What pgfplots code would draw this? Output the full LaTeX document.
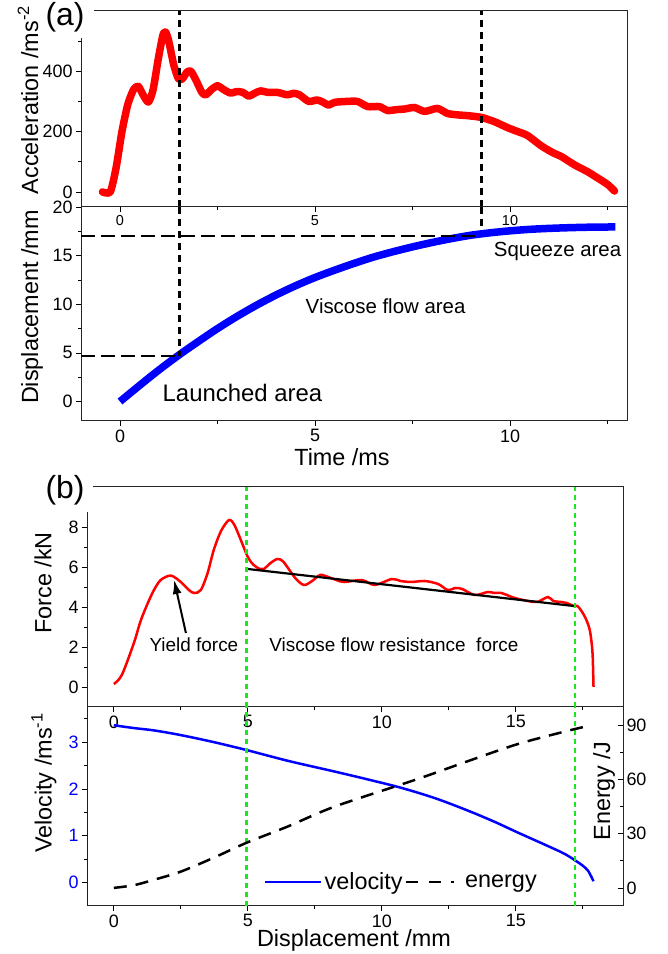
\documentclass[border=0pt]{standalone}
\usepackage{fontspec}
\setmainfont{Liberation Sans}
\usepackage{pgfplots}
\pgfplotsset{compat=1.18}
\usetikzlibrary{arrows.meta}
\definecolor{grn}{RGB}{30,230,30}
\pgfplotsset{
  common/.style={scale only axis, anchor=south west, clip=false,
    major tick length=5bp, minor tick length=3bp,
    every tick/.style={black, line width=0.8bp},
    axis line style={line width=1bp, black!85},
    /pgf/number format/assume math mode=true,
    tick label style={font=\fontsize{18}{18}\selectfont}},
  base/.style={common, tick align=outside, xtick pos=left, ytick pos=left},
}
\newcommand{\lab}{\fontsize{23.5}{24}\selectfont}
\begin{document}
\begin{tikzpicture}
\useasboundingbox (0,0) rectangle (668bp,954bp);
% ---------- (a) acceleration ----------
\begin{axis}[base, at={(81bp,747bp)}, width=546bp, height=196bp,
  xmin=-1, xmax=13, ymin=-50, ymax=600,
  xtick={0,5,10}, minor xtick={2.5,7.5,12.5},
  ytick={0,200,400}, minor ytick={100,300,500},
  xticklabel style={font=\fontsize{14.5}{14.5}\selectfont}]
\addplot[red, line width=7.5bp, line join=round, line cap=round, smooth, tension=0.4] coordinates {
(-0.45,0) (-0.25,0) (-0.1,80) (0.05,200) (0.2,290) (0.35,340) (0.47,350) (0.6,320) (0.73,298) (0.85,340) (0.98,440) (1.1,520) (1.17,530) (1.25,500) (1.38,420) (1.5,375) (1.6,375) (1.72,398) (1.82,400) (1.95,370) (2.1,330) (2.2,322) (2.35,340) (2.5,352) (2.65,340) (2.83,328) (3.0,333) (3.15,330) (3.3,318) (3.45,327) (3.6,335) (3.8,330) (4.04,330) (4.29,322) (4.45,327) (4.6,322) (4.84,300) (5.05,305) (5.2,298) (5.35,288) (5.5,297) (5.8,300) (6.09,300) (6.35,283) (6.65,283) (6.86,270) (7.1,273) (7.3,275) (7.55,280) (7.81,267) (8.14,277) (8.4,260) (8.7,255) (8.91,253) (9.27,247) (9.6,233) (9.94,213) (10.2,200) (10.45,187) (10.8,153) (11.1,130) (11.32,117) (11.65,90) (11.99,67) (12.2,50) (12.5,25) (12.68,3)};
\addplot[black, line width=2.5bp, dash pattern=on 7bp off 5bp] coordinates {(1.53,-50) (1.53,600)};
\addplot[black, line width=2.5bp, dash pattern=on 7bp off 5bp] coordinates {(9.27,-50) (9.27,600)};
\end{axis}
% ---------- (a) displacement ----------
\begin{axis}[base, at={(81bp,533bp)}, width=546bp, height=214bp,
  xmin=-1, xmax=13, ymin=-2, ymax=20,
  xtick={0,5,10}, minor xtick={2.5,7.5,12.5},
  ytick={0,5,10,15,20}, minor ytick={2.5,7.5,12.5,17.5}]
\addplot[blue, line width=7.5bp, smooth] coordinates {
(0,0) (0.5,1.65) (1,3.25) (1.5,4.75) (2,6.15) (2.5,7.5) (3,8.75) (3.5,9.9) (4,10.95) (4.5,11.9) (5,12.75) (5.5,13.5) (6,14.2) (6.5,14.85) (7,15.4) (7.5,15.9) (8,16.35) (8.5,16.75) (9,17.1) (9.5,17.35) (10,17.55) (10.5,17.7) (11,17.8) (11.5,17.87) (12,17.92) (12.7,17.95)};
\addplot[black, line width=2.5bp, dash pattern=on 14bp off 6bp] coordinates {(-1,17) (9.1,17)};
\addplot[black, line width=2.5bp, dash pattern=on 14bp off 6bp] coordinates {(-1,4.7) (1.4,4.7)};
\addplot[black, line width=2.5bp, dash pattern=on 7bp off 5bp] coordinates {(1.53,20) (1.53,4.7)};
\addplot[black, line width=2.5bp, dash pattern=on 7bp off 5bp] coordinates {(9.27,20) (9.27,17.6)};
\node[font=\fontsize{24}{24}\selectfont] at (axis cs:3.14,0.92) {Launched area};
\node[font=\fontsize{20.5}{21}\selectfont] at (axis cs:6.81,9.8) {Viscose flow area};
\node[font=\fontsize{20.5}{21}\selectfont] at (axis cs:11.22,15.4) {Squeeze area};
\end{axis}
% ---------- (b) force ----------
\begin{axis}[base, at={(87bp,247bp)}, width=536bp, height=220bp,
  xmin=-1, xmax=19, ymin=-1, ymax=10,
  xtick={0,5,10,15}, minor xtick={2.5,7.5,12.5,17.5},
  ytick={0,2,4,6,8}, minor ytick={1,3,5,7,9}]
\addplot[red, line width=2.5bp, smooth, tension=0.5] coordinates {
(0,0.15) (0.3,0.6) (0.75,2.2) (1.0,3.3) (1.27,4.2) (1.5,4.85) (1.75,5.35) (2.13,5.57) (2.5,5.25) (2.8,4.85) (3.0,4.7) (3.25,4.85) (3.5,5.7) (3.73,6.85) (4.0,7.8) (4.3,8.35) (4.5,8.1) (4.74,7.35) (5.0,6.5) (5.22,6.1) (5.45,5.9) (5.6,5.9) (5.85,6.2) (6.1,6.4) (6.3,6.3) (6.5,5.95) (6.8,5.4) (7.1,5.1) (7.4,5.3) (7.7,5.6) (8.0,5.5) (8.3,5.35) (8.6,5.25) (9.25,5.35) (9.74,5.1) (10.37,5.4) (10.7,5.3) (11.1,5.25) (11.6,5.3) (12.1,5.15) (12.46,4.85) (12.75,4.95) (13.0,4.9) (13.47,4.6) (13.96,4.75) (14.2,4.7) (14.46,4.7) (14.96,4.45) (15.45,4.3) (15.8,4.25) (16.2,4.5) (16.4,4.3) (16.7,4.25) (16.9,4.2) (17.16,4.05) (17.3,4.05) (17.5,3.7) (17.65,3.3) (17.76,2.85) (17.83,2.2) (17.87,1.5) (17.9,0)};
\addplot[black, line width=2.2bp] coordinates {(5.0,5.9) (17.16,4.05)};
\addplot[grn, line width=2.5bp, dash pattern=on 5bp off 4bp] coordinates {(4.96,-1) (4.96,10)};
\addplot[grn, line width=2.5bp, dash pattern=on 5bp off 4bp] coordinates {(17.2,-1) (17.2,10)};
\draw[black, line width=2bp, -{Latex[length=14bp,width=9bp]}] (axis cs:2.69,2.7) -- (axis cs:2.25,5.35);
\node[font=\fontsize{19}{19}\selectfont] at (axis cs:2.99,2.1) {Yield force};
\node[font=\fontsize{19}{19}\selectfont] at (axis cs:10.45,2.1) {Viscose flow resistance\ \ force};
\end{axis}
% ---------- (b) velocity ----------
\begin{axis}[base, at={(87bp,48bp)}, width=536bp, height=199bp,
  xmin=-1, xmax=19, ymin=-0.5, ymax=3.75,
  axis x line*=bottom, axis y line*=left,
  y axis line style={blue, line width=1bp},
  yticklabel style={blue},
  xtick={0,5,10,15}, minor xtick={2.5,7.5,12.5,17.5},
  ytick={0,1,2,3}, minor ytick={0.5,1.5,2.5,3.5},
  legend style={draw=none, fill=none, at={(0.33,0.12)}, anchor=west,
    legend columns=2, font=\fontsize{23.5}{23.5}\selectfont,
    inner sep=0bp, nodes={inner sep=2bp},
    /tikz/every even column/.append style={column sep=0bp}},
  legend image code/.code={\draw[#1] (0bp,0bp) -- (56bp,0bp);}]
\addplot[blue, line width=2.5bp, smooth] coordinates {
(0,3.36) (0.75,3.3) (1.5,3.25) (2.5,3.15) (3.73,3.0) (4.96,2.83) (6.5,2.6) (8.25,2.37) (9.5,2.2) (10.75,2.02) (12.0,1.8) (13.2,1.54) (14.2,1.3) (15.07,1.07) (16.2,0.78) (16.8,0.62) (17.2,0.48) (17.5,0.36) (17.7,0.25) (17.9,0.03)};
\addlegendentry{velocity}
\addlegendimage{black, line width=2.5bp, dash pattern=on 12bp off 11bp on 12bp off 10bp on 3bp off 50bp}
\addlegendentry{energy}
\addplot[grn, line width=2.5bp, dash pattern=on 5bp off 4bp, forget plot] coordinates {(4.96,-0.5) (4.96,3.75)};
\addplot[grn, line width=2.5bp, dash pattern=on 5bp off 4bp, forget plot] coordinates {(17.2,-0.5) (17.2,3.75)};
\end{axis}
% ---------- (b) energy ----------
\begin{axis}[common, at={(87bp,48bp)}, width=536bp, height=199bp,
  xmin=-1, xmax=19, ymin=-10, ymax=100,
  axis x line=none, axis y line*=right, tick align=inside,
  ytick pos=right, yticklabel pos=right,
  ytick={0,30,60,90}, minor ytick={15,45,75}]
\addplot[black, line width=2.5bp, dash pattern=on 13bp off 9bp, smooth] coordinates {
(0,0) (0.75,1.5) (1.5,4.5) (2.5,9) (3.73,16.7) (4.96,25) (6.5,34) (8.25,45) (11.3,60) (13.2,70) (15.07,79.5) (16.9,86.7) (17.7,89.5)};
\end{axis}
% ---------- labels ----------
\fill[white] (38bp,916bp) rectangle (94bp,954bp);
\node[font=\fontsize{32}{32}\selectfont] at (65bp,937bp) {(a)};
\fill[white] (38bp,442bp) rectangle (93bp,484bp);
\node[font=\fontsize{32}{32}\selectfont] at (65bp,464bp) {(b)};
\node[font=\lab, rotate=90] at (28bp,854bp) {Acceleration /ms\textsuperscript{-2}};
\node[font=\lab, rotate=90] at (32bp,647bp) {Displacement /mm};
\node[font=\lab] at (342bp,497bp) {Time /ms};
\node[font=\lab, rotate=90] at (43bp,371bp) {Force /kN};
\node[font=\lab, rotate=90] at (44bp,171bp) {Velocity /ms\textsuperscript{-1}};
\node[font=\lab, rotate=90] at (604bp,163bp) {Energy /J};
\node[font=\lab] at (354bp,14bp) {Displacement /mm};
\end{tikzpicture}
\end{document}
